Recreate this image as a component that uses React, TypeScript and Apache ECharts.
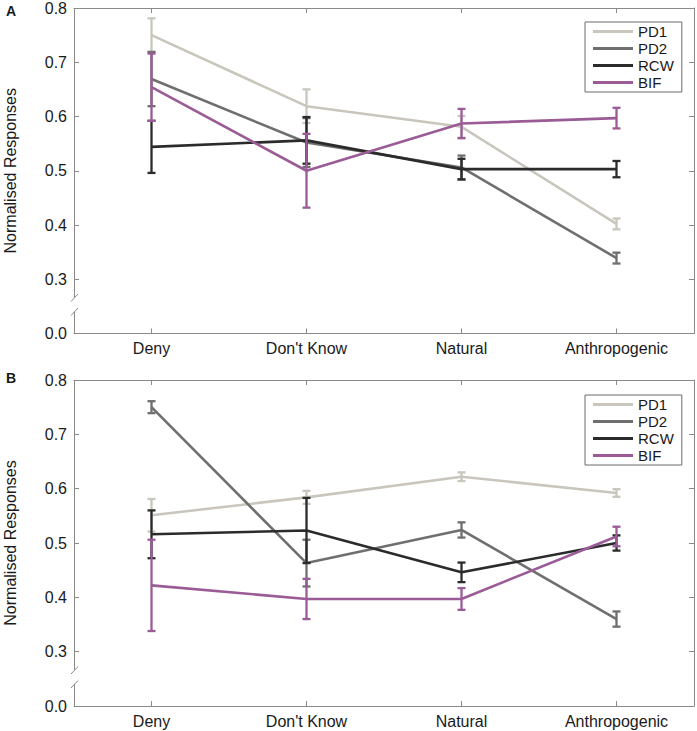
import React, { useEffect, useRef } from "react";
import * as echarts from "echarts";

const categories = ["Deny", "Don't Know", "Natural", "Anthropogenic"];
const seriesNames = ["PD1", "PD2", "RCW", "BIF"];
const seriesColors = ["#c9c6bd", "#6f6f6f", "#2b2b2b", "#9a5b96"];

// Panel A means and error half-widths
const pd1A = [0.75, 0.619, 0.581, 0.402];
const pd1AErr = [0.031, 0.031, 0.02, 0.01];
const pd2A = [0.669, 0.552, 0.506, 0.339];
const pd2AErr = [0.05, 0.045, 0.022, 0.01];
const rcwA = [0.544, 0.556, 0.503, 0.503];
const rcwAErr = [0.048, 0.043, 0.019, 0.015];
const bifA = [0.654, 0.5, 0.587, 0.597];
const bifAErr = [0.062, 0.068, 0.027, 0.019];

// Panel B means and error half-widths
const pd1B = [0.551, 0.584, 0.622, 0.592];
const pd1BErr = [0.03, 0.012, 0.008, 0.007];
const pd2B = [0.75, 0.463, 0.524, 0.36];
const pd2BErr = [0.011, 0.043, 0.014, 0.014];
const rcwB = [0.516, 0.523, 0.446, 0.5];
const rcwBErr = [0.044, 0.06, 0.018, 0.014];
const bifB = [0.422, 0.397, 0.397, 0.512];
const bifBErr = [0.084, 0.037, 0.02, 0.018];

// y axis: the "0.0" tick sits one step below 0.3 (broken axis)
const yTickValues = [0.2, 0.3, 0.4, 0.5, 0.6, 0.7, 0.8];
const yTickLabels = ["0.0", "0.3", "0.4", "0.5", "0.6", "0.7", "0.8"];

const FONT = "'Liberation Sans', Arial, Helvetica, sans-serif";
const AXIS_COLOR = "#8a8a8a";
const TEXT_COLOR = "#1a1a1a";

const panelA = { means: [pd1A, pd2A, rcwA, bifA], errs: [pd1AErr, pd2AErr, rcwAErr, bifAErr] };
const panelB = { means: [pd1B, pd2B, rcwB, bifB], errs: [pd1BErr, pd2BErr, rcwBErr, bifBErr] };

export default function App() {
  const ref = useRef<HTMLDivElement>(null);
  useEffect(() => {
    if (!ref.current) return;
    const chart = echarts.init(ref.current, undefined, { renderer: "svg" });

    const grids = [
      { left: 74, right: 3, top: 8, height: 325.5, containLabel: false, outerBoundsMode: "none" },
      { left: 74, right: 3, top: 380, height: 326, containLabel: false, outerBoundsMode: "none" },
    ];

    const xAxes: any[] = [];
    const yAxes: any[] = [];
    [0, 1].forEach((g) => {
      xAxes.push({
        type: "category",
        gridIndex: g,
        position: "bottom",
        data: categories,
        boundaryGap: true,
        axisLine: { show: true, lineStyle: { color: AXIS_COLOR, width: 1 } },
        axisTick: { show: true, inside: true, length: 5, alignWithLabel: true, lineStyle: { color: AXIS_COLOR } },
        axisLabel: { color: TEXT_COLOR, fontSize: 16, fontFamily: FONT, margin: 7 },
        splitLine: { show: false },
      });
      xAxes.push({
        type: "category",
        gridIndex: g,
        position: "top",
        data: categories,
        boundaryGap: true,
        axisLine: { show: true, lineStyle: { color: AXIS_COLOR, width: 1 } },
        axisTick: { show: true, inside: true, length: 5, alignWithLabel: true, lineStyle: { color: AXIS_COLOR } },
        axisLabel: { show: false },
        splitLine: { show: false },
      });
      yAxes.push({
        type: "value",
        gridIndex: g,
        position: "left",
        min: 0.2,
        max: 0.8,
        interval: 0.1,
        name: "Normalised Responses",
        nameLocation: "middle",
        nameRotate: 90,
        nameGap: 56,
        nameTextStyle: { color: TEXT_COLOR, fontSize: 16, fontFamily: FONT },
        axisLine: { show: false },
        axisTick: { show: true, inside: true, length: 5, lineStyle: { color: AXIS_COLOR } },
        axisLabel: {
          color: TEXT_COLOR,
          fontSize: 16,
          fontFamily: FONT,
          margin: 7,
          formatter: (v: number) => {
            const i = yTickValues.findIndex((t) => Math.abs(t - v) < 1e-6);
            return i >= 0 ? yTickLabels[i] : "";
          },
        },
        splitLine: { show: false },
      });
      yAxes.push({
        type: "value",
        gridIndex: g,
        position: "right",
        min: 0.2,
        max: 0.8,
        interval: 0.1,
        axisLine: { show: true, lineStyle: { color: AXIS_COLOR, width: 1 } },
        axisTick: { show: true, inside: true, length: 5, lineStyle: { color: AXIS_COLOR } },
        axisLabel: { show: false },
        splitLine: { show: false },
      });
    });

    const series: any[] = [];
    [panelA, panelB].forEach((panel, g) => {
      seriesNames.forEach((name, s) => {
        const means = panel.means[s];
        const errs = panel.errs[s];
        const color = seriesColors[s];
        series.push({
          type: "custom",
          name: name + " error",
          xAxisIndex: g * 2,
          yAxisIndex: g * 2,
          data: means.map((m, i) => [i, m - errs[i], m + errs[i]]),
          renderItem: (params: any, api: any) => {
            const lo = api.coord([api.value(0), api.value(1)]);
            const hi = api.coord([api.value(0), api.value(2)]);
            const hw = 4;
            const st = { stroke: color, lineWidth: 2.3, fill: "none" };
            return {
              type: "group",
              children: [
                { type: "line", shape: { x1: lo[0], y1: lo[1], x2: hi[0], y2: hi[1] }, style: st },
                { type: "line", shape: { x1: lo[0] - hw, y1: lo[1], x2: lo[0] + hw, y2: lo[1] }, style: st },
                { type: "line", shape: { x1: hi[0] - hw, y1: hi[1], x2: hi[0] + hw, y2: hi[1] }, style: st },
              ],
            };
          },
          z: 2 + s,
          silent: true,
        });
        series.push({
          type: "line",
          name,
          xAxisIndex: g * 2,
          yAxisIndex: g * 2,
          data: means,
          symbol: "none",
          lineStyle: { color, width: 2.6 },
          itemStyle: { color },
          z: 2 + s,
        });
      });
    });

    const legendBase = {
      orient: "vertical",
      data: seriesNames,
      icon: "rect",
      itemWidth: 40,
      itemHeight: 3,
      itemGap: 2,
      padding: [2, 8, 2, 8],
      borderColor: "#6a6a6a",
      borderWidth: 1,
      borderRadius: 0,
      backgroundColor: "#ffffff",
      textStyle: { color: TEXT_COLOR, fontSize: 15, fontFamily: FONT, lineHeight: 15 },
      selectedMode: false,
    };

    const breakLine = (offset: number) => [
      { type: "line", shape: { x1: 74.5, y1: 8 + offset, x2: 74.5, y2: 297.5 + offset }, style: { stroke: AXIS_COLOR, lineWidth: 1 } },
      { type: "line", shape: { x1: 74.5, y1: 311.5 + offset, x2: 74.5, y2: 333.5 + offset }, style: { stroke: AXIS_COLOR, lineWidth: 1 } },
      { type: "line", shape: { x1: 71, y1: 301.5 + offset, x2: 78, y2: 294 + offset }, style: { stroke: AXIS_COLOR, lineWidth: 1 } },
      { type: "line", shape: { x1: 71, y1: 315.5 + offset, x2: 78, y2: 308 + offset }, style: { stroke: AXIS_COLOR, lineWidth: 1 } },
    ];

    chart.setOption({
      animation: false,
      backgroundColor: "#ffffff",
      textStyle: { fontFamily: FONT },
      grid: grids,
      xAxis: xAxes,
      yAxis: yAxes,
      series,
      legend: [
        { ...legendBase, left: 585, top: 22 },
        { ...legendBase, left: 585, top: 395 },
      ],
      graphic: [
        ...breakLine(0),
        ...breakLine(372.5),
        { type: "text", left: 6, top: 4, style: { text: "A", fontSize: 14, fontWeight: "bold", fontFamily: FONT, fill: TEXT_COLOR } },
        { type: "text", left: 6, top: 371, style: { text: "B", fontSize: 14, fontWeight: "bold", fontFamily: FONT, fill: TEXT_COLOR } },
      ],
    });

    return () => chart.dispose();
  }, []);

  return (
    <div
      ref={ref}
      style={{ position: "fixed", left: 0, top: 0, width: 697, height: 731, background: "#fff" }}
    />
  );
}
